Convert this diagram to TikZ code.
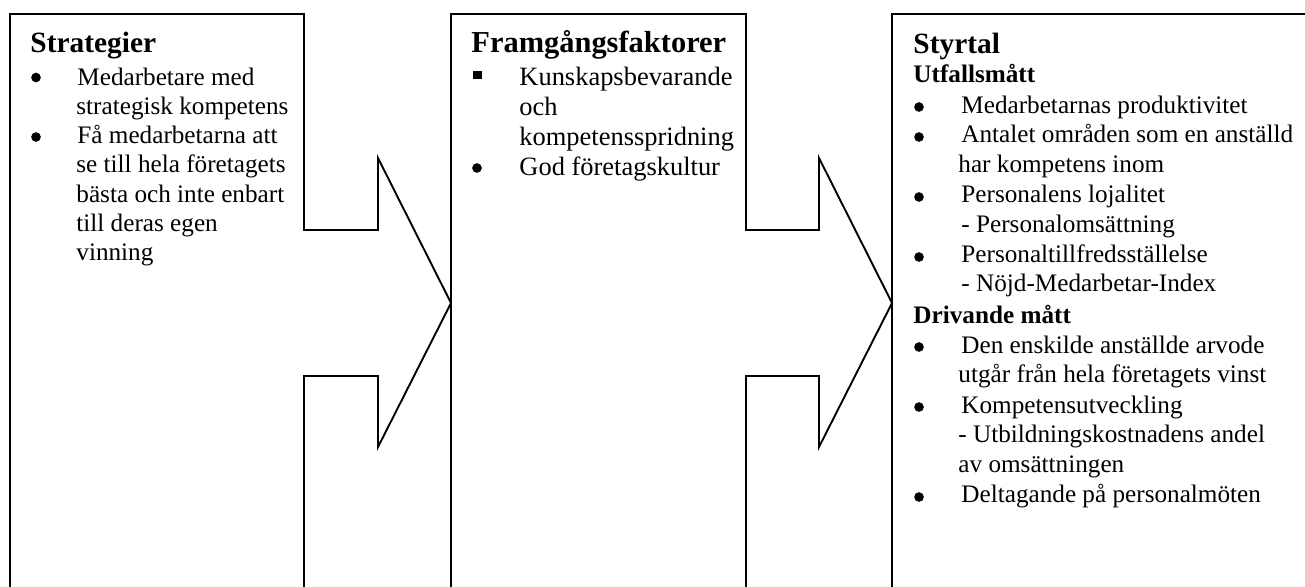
\documentclass[tikz,border=0pt]{standalone}
\usepackage{fontspec}
\setmainfont{Liberation Serif}
\begin{document}
\begin{tikzpicture}[x=0.4762pt,y=-0.4762pt,
  outline/.style={line width=0.9pt,line join=miter},
  ttl/.style={anchor=base west,inner sep=0pt,font=\fontsize{14}{16}\selectfont\bfseries},
  ttlb/.style={anchor=base west,inner sep=0pt,font=\fontsize{14.5}{16}\selectfont\bfseries},
  sub/.style={anchor=base west,inner sep=0pt,font=\fontsize{12}{14}\selectfont\bfseries},
  txt/.style={anchor=base west,inner sep=0pt,font=\fontsize{12}{14}\selectfont},
  txtb/.style={anchor=base west,inner sep=0pt,font=\fontsize{12.6}{14}\selectfont},
  dot/.style={fill=black}]
\useasboundingbox (0,0) rectangle (1305,586);
\clip (0,0) rectangle (1305,586);

% three panels, the first two ending in an arrow head
\draw[outline] (10,600) -- (10,14) -- (304,14) -- (304,230) -- (378,230) -- (378,158)
  -- (451,303) -- (378,447) -- (378,376) -- (304,376) -- (304,600);
\draw[outline] (451,600) -- (451,14) -- (746,14) -- (746,230) -- (819,230) -- (819,158)
  -- (892,303) -- (819,447) -- (819,376) -- (746,376) -- (746,600);
\draw[outline] (892,600) -- (892,14) -- (1320,14);

% Strategier
\node[ttl] (s0) at (30,52) {Strategier};
\fill[dot] (36,77.5) circle (2.3pt);
\node[txt] (s1) at (77,85) {Medarbetare med};
\node[txt] (s2) at (76,114.3) {strategisk kompetens};
\fill[dot] (36,137) circle (2.3pt);
\node[txt] (s3) at (77,143.6) {Få medarbetarna att};
\node[txt] (s4) at (76,172.9) {se till hela företagets};
\node[txt] (s5) at (76,202.2) {bästa och inte enbart};
\node[txt] (s6) at (76,231.5) {till deras egen};
\node[txt] (s7) at (76,260.8) {vinning};

% Framgångsfaktorer
\node[ttlb] (f0) at (471,52) {Framgångsfaktorer};
\fill[dot] (473,70.5) rectangle (481.5,79);
\node[txtb] (f1) at (519,85) {Kunskapsbevarande};
\node[txtb] (f2) at (519,115) {och};
\node[txtb] (f3) at (519,145) {kompetensspridning};
\fill[dot] (477,168) circle (2.3pt);
\node[txtb] (f4) at (519,175) {God företagskultur};

% Styrtal
\node[ttl] (y0) at (913,53) {Styrtal};
\node[sub] (y1) at (913,82) {Utfallsmått};
\fill[dot] (919,107) circle (2.3pt);
\node[txt] (y2) at (961,113) {Medarbetarnas produktivitet};
\fill[dot] (919,137) circle (2.3pt);
\node[txt] (y3) at (961,142.5) {Antalet områden som en anställd};
\node[txt] (y4) at (958,172.5) {har kompetens inom};
\fill[dot] (919,197) circle (2.3pt);
\node[txt] (y5) at (961,202.5) {Personalens lojalitet};
\node[txt] (y6) at (961,232) {- Personalomsättning};
\fill[dot] (919,257) circle (2.3pt);
\node[txt] (y7) at (961,262) {Personaltillfredsställelse};
\node[txt] (y8) at (961,291.5) {- Nöjd-Medarbetar-Index};
\node[sub] (y9) at (913,323) {Drivande mått};
\fill[dot] (919,347) circle (2.3pt);
\node[txt] (y10) at (961,353) {Den enskilde anställde arvode};
\node[txt] (y11) at (958,382.5) {utgår från hela företagets vinst};
\fill[dot] (919,407) circle (2.3pt);
\node[txt] (y12) at (961,413) {Kompetensutveckling};
\node[txt] (y13) at (958,442.5) {- Utbildningskostnadens andel};
\node[txt] (y14) at (958,472) {av omsättningen};
\fill[dot] (919,497) circle (2.3pt);
\node[txt] (y15) at (961,502) {Deltagande på personalmöten};
\end{tikzpicture}
\end{document}
